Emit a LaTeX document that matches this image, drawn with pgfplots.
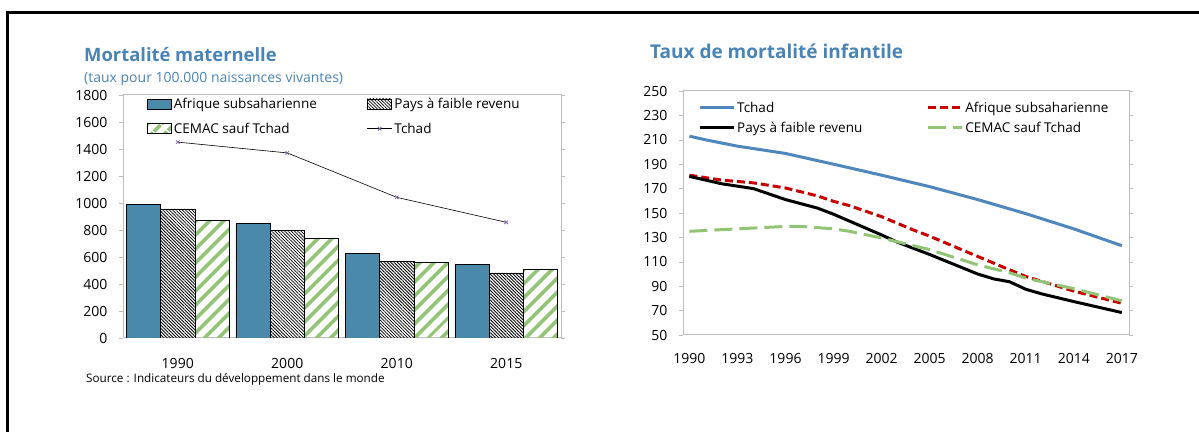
\documentclass[border=0pt]{standalone}
\usepackage{fontspec}
\setmainfont{Open Sans}
\usepackage{pgfplots}
\pgfplotsset{compat=1.18}
\usetikzlibrary{patterns.meta}
\definecolor{ttl}{RGB}{72,132,182}
\definecolor{barblue}{RGB}{74,137,170}
\definecolor{tblue}{RGB}{79,134,188}
\definecolor{dred}{RGB}{200,0,0}
\definecolor{lgreen}{RGB}{146,196,118}
\definecolor{mpurple}{RGB}{128,100,170}
\definecolor{axgray}{RGB}{190,190,190}
\begin{document}
\begin{tikzpicture}
\useasboundingbox (0pt,0pt) rectangle (1199pt,431pt);
\draw[line width=3pt] (7pt,-5pt) -- (7pt,418pt) -- (1205pt,418pt);
\node[anchor=west,inner sep=0,font=\bfseries\fontsize{18.4}{21}\selectfont,text=ttl] at (84pt,376pt) {Mortalité maternelle};
\node[anchor=west,inner sep=0,font=\fontsize{14}{16}\selectfont,text=ttl] at (84pt,352pt) {(taux pour 100.000 naissances vivantes)};
\node[anchor=west,inner sep=0,font=\bfseries\fontsize{19}{22}\selectfont,text=ttl] at (650pt,380pt) {Taux de mortalité infantile};
\node[anchor=west,inner sep=0,font=\fontsize{11.7}{13}\selectfont] at (86pt,52pt) {Source : Indicateurs du développement dans le monde};

\begin{axis}[at={(123pt,93pt)},anchor=south west,scale only axis,width=438pt,height=243pt,
  xmin=-0.5,xmax=3.5,ymin=0,ymax=1800,ytick={0,200,...,1800},
  xtick={0,1,2,3},xticklabels={1990,2000,2010,2015},
  major x tick style={draw=none},
  extra x ticks={0.5,1.5,2.5},extra x tick labels={},
  extra x tick style={major tick length=4pt,tick style={axgray},tick align=inside},
  axis line style={axgray,line width=1pt},
  ytick style={axgray},tick align=outside,major tick length=4pt,
  ticklabel style={font=\fontsize{14}{16}\selectfont},
  /pgf/number format/assume math mode=true,/pgf/number format/1000 sep={},
  yticklabel style={xshift=-8pt},
  xticklabel style={yshift=-13pt},
  legend style={at={(0.048,1.005)},anchor=north west,draw=none,fill=none,
    font=\fontsize{13.5}{16}\selectfont,legend columns=2,row sep=9pt,
    /tikz/every even column/.append style={column sep=48pt}},
  legend cell align=left,
  area legend,
  legend image code/.code={\draw[#1] (0pt,-5pt) rectangle (24pt,5pt);},
]
\addplot[ybar,bar width=0.313,bar shift=-0.313,fill=barblue,draw=black,line width=0.6pt] coordinates {(0,988) (1,847) (2,627) (3,546)};
\addlegendentry{Afrique subsaharienne}
\addplot[ybar,bar width=0.313,bar shift=0,draw=black,line width=0.6pt,pattern={Lines[angle=-45,distance=2.3pt,line width=0.8pt]},pattern color=black] coordinates {(0,956) (1,795) (2,570) (3,482)};
\addlegendentry{Pays à faible revenu}
\addplot[ybar,bar width=0.313,bar shift=0.313,draw=black,line width=0.6pt,pattern={Lines[angle=45,distance=10.5pt,line width=4pt]},pattern color=lgreen] coordinates {(0,872) (1,741) (2,560) (3,511)};
\addlegendentry{CEMAC sauf Tchad}
\addplot[black,line width=0.6pt,mark=x,mark options={mpurple,line width=0.8pt},mark size=2.5pt,
  legend image code/.code={\draw[black,line width=0.6pt] (0pt,0pt) -- (25pt,0pt); \draw[mpurple,line width=0.8pt] plot[mark=x,mark size=2.5pt] coordinates {(12.5pt,0pt)};}]
  coordinates {(0,1451) (1,1371) (2,1042) (3,857)};
\addlegendentry{Tchad}
\end{axis}

\begin{axis}[at={(683pt,96pt)},anchor=south west,scale only axis,width=446pt,height=244pt,
  xmin=1989.6,xmax=2017.45,ymin=50,ymax=250,ytick={50,70,...,250},
  xtick={1990,1993,...,2017},major x tick style={draw=none},
  extra x ticks={1994.5,1999.5,2004.5,2009.5,2014.5},extra x tick labels={},
  extra x tick style={major tick length=7pt,tick style={axgray},tick align=inside},
  axis line style={axgray,line width=1pt},
  ytick style={axgray},tick align=outside,major tick length=4pt,
  ticklabel style={font=\fontsize{14}{16}\selectfont},
  /pgf/number format/assume math mode=true,/pgf/number format/1000 sep={},
  yticklabel style={xshift=-8pt},
  xticklabel style={yshift=-11pt},
  legend style={at={(0.027,0.972)},anchor=north west,draw=none,fill=none,
    font=\fontsize{13.5}{16}\selectfont,legend columns=2,row sep=4pt,
    /tikz/every even column/.append style={column sep=62pt}},
  legend cell align=left,
  legend image code/.code={\draw[#1] (0pt,0pt) -- (34pt,0pt);},
  every axis plot/.append style={line width=3pt},
]
\addplot[tblue] coordinates {(1990,213) (1991,210) (1993,204.8) (1996,198.8) (1999,190) (2002,181) (2005,171.6) (2008,161) (2011,149.5) (2014,137) (2017,123.2)};
\addlegendentry{Tchad}
\addplot[dred,dash pattern=on 8pt off 4pt] coordinates {(1990,181) (1992,177) (1994,174.7) (1996,170.5) (1998,164) (1999,159.6) (2000,156) (2002,147) (2004,136) (2005,131) (2008,114.4) (2010,103.4) (2011,98) (2014,86) (2017,76)};
\addlegendentry{Afrique subsaharienne}
\addplot[black] coordinates {(1990,180) (1992,174) (1993,172) (1994,170) (1996,161) (1998,154) (1999,149) (2002,132) (2003,126) (2005,116) (2008,100) (2009,96) (2010,93.6) (2011,87.5) (2012,83.7) (2014,77.4) (2017,68.4)};
\addlegendentry{Pays à faible revenu}
\addplot[lgreen,dash pattern=on 18pt off 7pt] coordinates {(1990,135) (1993,137) (1996,139) (1997,139) (1999,137) (2000,135) (2002,129.5) (2005,120) (2008,107.5) (2010,101) (2011,96.6) (2014,88) (2017,78)};
\addlegendentry{CEMAC sauf Tchad}
\end{axis}
\end{tikzpicture}
\end{document}
